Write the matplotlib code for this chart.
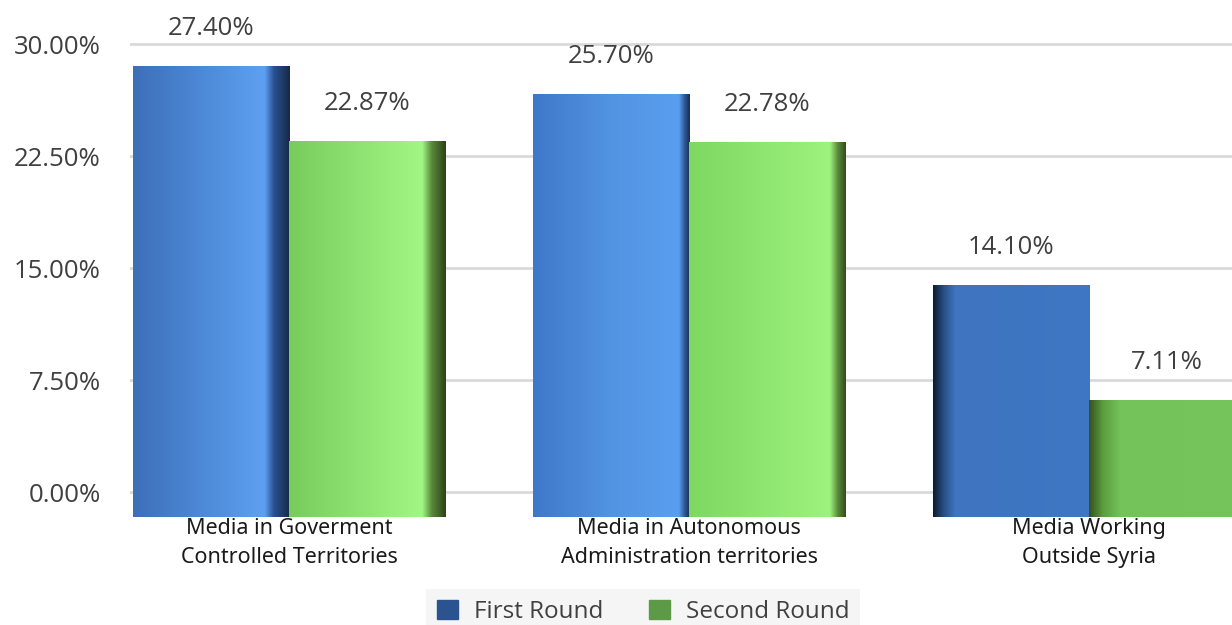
import numpy as np
import matplotlib.pyplot as plt
from matplotlib.colors import LinearSegmentedColormap
from matplotlib.patches import Patch

# data
categories = ["Media in Goverment\nControlled Territories",
              "Media in Autonomous\nAdministration territories",
              "Media Working\nOutside Syria"]
first_round = [27.40, 25.70, 14.10]
second_round = [22.87, 22.78, 7.11]
y_ticks = [0, 7.5, 15, 22.5, 30]

# shading stops for each bar (left -> right), gives the bevelled 3D look
blue_stops = [
    [(0, "#3d6fb8"), (0.45, "#4d8ad8"), (0.84, "#5ea0f0"), (0.9, "#2a5090"), (1, "#152a48")],
    [(0, "#3f78c8"), (0.5, "#5294e2"), (0.93, "#5a9ef0"), (0.97, "#2d5590"), (1, "#1a3050")],
    [(0, "#0e1c30"), (0.07, "#2a5088"), (0.14, "#3e74c0"), (1, "#3f77c4")],
]
green_stops = [
    [(0, "#78cc5c"), (0.85, "#a2f784"), (0.91, "#5a8a3a"), (1, "#2c4418")],
    [(0, "#7ed862"), (0.9, "#9ef27e"), (0.95, "#5a8a3a"), (1, "#334d20")],
    [(0, "#34521f"), (0.09, "#5e9e40"), (0.2, "#74c25a"), (1, "#76c45c")],
]

W, H = 1232, 625
fig = plt.figure(figsize=(W / 100, H / 100), dpi=100)
ax = fig.add_axes([130 / W, (H - 517) / H, (W - 130) / W, 487 / H])

# grid / tick axis
ax.set_ylim(-1.674, 30.94)
ax.set_xlim(-0.3975, 2.357)
ax.set_yticks(y_ticks)
ax.set_yticklabels([f"{v:.2f}%" for v in y_ticks], fontfamily="Open Sans",
                   fontsize=18.5, color="#404040")
ax.tick_params(axis="y", length=0, pad=21)
ax.grid(axis="y", color="#d9d9d9", linewidth=2)
ax.set_axisbelow(True)
for s in ax.spines.values():
    s.set_visible(False)

ax.set_xticks(range(len(categories)))
ax.set_xticklabels(categories, fontfamily="Noto Sans", fontsize=15.5,
                   color="#1a1a1a", linespacing=1.5)
ax.tick_params(axis="x", length=0, pad=1)

# bar axis (3D bars sit lower than the grid baseline)
ax2 = ax.twinx()
ax2.set_ylim(0, 29.59)
ax2.set_yticks([])
for s in ax2.spines.values():
    s.set_visible(False)

x = np.arange(len(categories))
width = 0.39
b1 = ax2.bar(x - width / 2, first_round, width, color="#4a85d4", zorder=2)
b2 = ax2.bar(x + width / 2, second_round, width, color="#8de06e", zorder=2)

grad = np.linspace(0, 1, 256).reshape(1, -1)


def shade(bar, stops):
    cmap = LinearSegmentedColormap.from_list("", stops)
    x0, w, h = bar.get_x(), bar.get_width(), bar.get_height()
    im = ax2.imshow(grad, cmap=cmap, aspect="auto", extent=(x0, x0 + w, 0, h),
                    zorder=3, interpolation="bilinear")
    im.set_clip_path(bar)


for bar, st in zip(b1, blue_stops):
    shade(bar, st)
for bar, st in zip(b2, green_stops):
    shade(bar, st)

ax2.set_xlim(-0.3975, 2.357)
ax2.set_ylim(0, 29.59)

# value labels
for bars, vals in [(b1, first_round), (b2, second_round)]:
    for bar, v in zip(bars, vals):
        ax2.annotate(f"{v:.2f}%", (bar.get_x() + bar.get_width() / 2, v),
                     xytext=(0, 27), textcoords="offset points",
                     ha="center", va="center", fontfamily="Open Sans",
                     fontsize=18.5, color="#404040", annotation_clip=False)

handles = [Patch(color="#2b5390", label="First Round"),
           Patch(color="#5c9a48", label="Second Round")]
leg = fig.legend(handles=handles, loc="lower center", bbox_to_anchor=(0.522, -0.016),
                 ncol=2, frameon=True, facecolor="#f3f3f3", edgecolor="none",
                 fancybox=False, handlelength=0.85, handleheight=0.85,
                 columnspacing=1.9, borderpad=0.45, borderaxespad=0,
                 handletextpad=0.65, prop={"family": "Open Sans", "size": 17.5})
for t in leg.get_texts():
    t.set_color("#404040")

fig.savefig("out.png", dpi=100)
